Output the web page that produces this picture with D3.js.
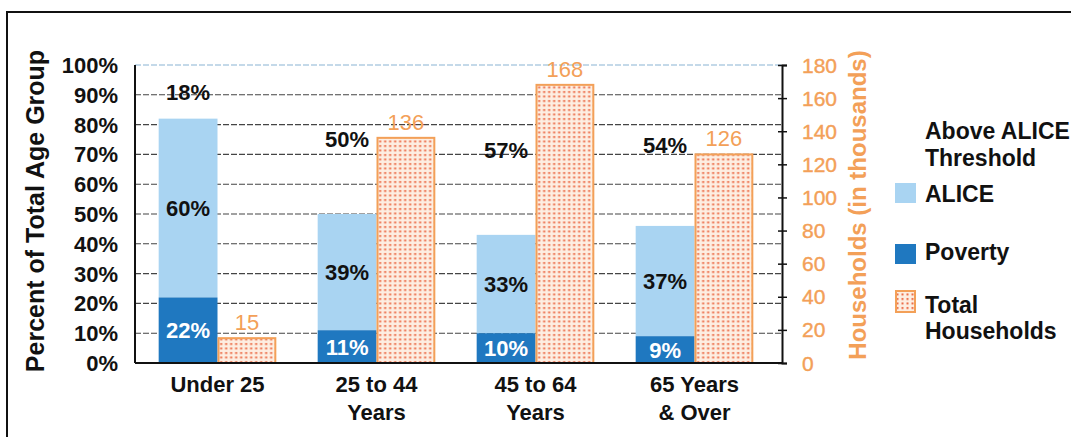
<!DOCTYPE html>
<html>
<head>
<meta charset="utf-8">
<script src="https://cdn.jsdelivr.net/npm/d3@7"></script>
<style>
  body { margin: 0; background: #fff; }
  svg { display: block; font-family: "Liberation Sans", Arial, sans-serif; }
</style>
</head>
<body>
<div id="chart"></div>
<script>
// ALICE by age chart

var categories = [["Under 25"], ["25 to 44", "Years"], ["45 to 64", "Years"], ["65 Years", "& Over"]];
var poverty = [22, 11, 10, 9];
var alice = [60, 39, 33, 37];
var aboveAlice = [18, 50, 57, 54];
var households = [15, 136, 168, 126];
var pctTicks = [0, 10, 20, 30, 40, 50, 60, 70, 80, 90, 100];
var hhTicks = [0, 20, 40, 60, 80, 100, 120, 140, 160, 180];

var width = 1071, height = 437;
var plot = {left: 135, right: 782, top: 65, bottom: 363};

var colAlice = "#a9d4f2", colPoverty = "#1f78c0", colOrange = "#f3a058", colDots = "#ec6a45";

var svg = d3.select("#chart").append("svg")
    .attr("width", width)
    .attr("height", height);

// dotted fill for households
var pat = svg.append("defs").append("pattern")
    .attr("id", "dots")
    .attr("patternUnits", "userSpaceOnUse")
    .attr("width", 5)
    .attr("height", 4.5);
pat.append("rect").attr("width", 5).attr("height", 4.5).attr("fill", "#fdeee2");
pat.append("rect").attr("x", 1.5).attr("y", 1).attr("width", 2).attr("height", 2).attr("fill", colDots);

// outer frame
svg.append("rect")
    .attr("x", 7).attr("y", 12)
    .attr("width", 1100).attr("height", 460)
    .attr("fill", "none")
    .attr("stroke", "#111")
    .attr("stroke-width", 2);

var y = d3.scaleLinear().domain([0, 100]).range([plot.bottom, plot.top]);
var y2 = d3.scaleLinear().domain([0, 180]).range([plot.bottom, plot.top]);

var x0 = d3.scaleBand()
    .domain(d3.range(categories.length))
    .range([138, 774])
    .paddingInner(0.26)
    .paddingOuter(0.13);
var x1 = d3.scaleBand()
    .domain(["stack", "hh"])
    .range([0, x0.bandwidth()]);

// gridlines
svg.append("g").selectAll("line")
    .data(pctTicks.slice(1))
    .enter().append("line")
    .attr("x1", plot.left).attr("x2", plot.right)
    .attr("y1", function(d) { return y(d); })
    .attr("y2", function(d) { return y(d); })
    .attr("stroke", function(d) { return d === 100 ? "#8ab4d4" : "#444"; })
    .attr("stroke-width", 1.1)
    .attr("stroke-dasharray", "6,2");

// stacked bars
var groups = svg.append("g").selectAll("g")
    .data(d3.range(categories.length))
    .enter().append("g")
    .attr("transform", function(i) { return "translate(" + x0(i) + ",0)"; });

groups.append("rect")
    .attr("x", x1("stack"))
    .attr("width", x1.bandwidth())
    .attr("y", function(i) { return y(poverty[i] + alice[i]); })
    .attr("height", function(i) { return y(poverty[i]) - y(poverty[i] + alice[i]); })
    .attr("fill", colAlice);

groups.append("rect")
    .attr("x", x1("stack"))
    .attr("width", x1.bandwidth())
    .attr("y", function(i) { return y(poverty[i]); })
    .attr("height", function(i) { return y(0) - y(poverty[i]); })
    .attr("fill", colPoverty);

groups.append("rect")
    .attr("x", x1("hh") + 1)
    .attr("width", x1.bandwidth() - 2)
    .attr("y", function(i) { return y2(households[i]); })
    .attr("height", function(i) { return y2(0) - y2(households[i]); })
    .attr("fill", "url(#dots)")
    .attr("stroke", colOrange)
    .attr("stroke-width", 2);

var labelFont = 22;
function segLabel(cls, getLow, getHigh, getText, color) {
    groups.append("text")
        .attr("class", cls)
        .attr("x", x1("stack") + x1.bandwidth() / 2)
        .attr("y", function(i) { return (y(getLow(i)) + y(getHigh(i))) / 2; })
        .attr("dy", "0.36em")
        .attr("text-anchor", "middle")
        .attr("font-size", labelFont)
        .attr("font-weight", "bold")
        .attr("fill", color)
        .text(getText);
}
segLabel("pov", function() { return 0; }, function(i) { return poverty[i]; },
    function(i) { return poverty[i] + "%"; }, "#fff");
segLabel("alice", function(i) { return poverty[i]; }, function(i) { return poverty[i] + alice[i]; },
    function(i) { return alice[i] + "%"; }, "#111");
segLabel("above", function(i) { return poverty[i] + alice[i]; }, function() { return 100; },
    function(i) { return aboveAlice[i] + "%"; }, "#111");

groups.append("text")
    .attr("x", x1("hh") + x1.bandwidth() / 2)
    .attr("y", function(i) { return y2(households[i]) - 8; })
    .attr("text-anchor", "middle")
    .attr("font-size", 22)
    .attr("fill", colOrange)
    .text(function(i) { return households[i]; });

// axes lines
svg.append("line")
    .attr("x1", plot.left).attr("x2", plot.left)
    .attr("y1", plot.top).attr("y2", plot.bottom)
    .attr("stroke", "#111").attr("stroke-width", 2);
svg.append("line")
    .attr("x1", plot.left).attr("x2", plot.right)
    .attr("y1", plot.bottom).attr("y2", plot.bottom)
    .attr("stroke", "#111").attr("stroke-width", 2);

var rightAxis = svg.append("g")
    .attr("transform", "translate(" + plot.right + ",0)")
    .call(d3.axisRight(y2).tickValues(hhTicks).tickSize(5).tickFormat(""));
rightAxis.select(".domain").attr("stroke", "#111").attr("stroke-width", 2);
rightAxis.selectAll(".tick line").attr("stroke", "#111").attr("stroke-width", 1.5).attr("x1", -4);

// left tick labels
svg.append("g").selectAll("text")
    .data(pctTicks)
    .enter().append("text")
    .attr("x", 118)
    .attr("y", function(d) { return y(d); })
    .attr("dy", "0.36em")
    .attr("text-anchor", "end")
    .attr("font-size", 22)
    .attr("font-weight", "bold")
    .attr("fill", "#111")
    .text(function(d) { return d + "%"; });

// right tick labels
svg.append("g").selectAll("text")
    .data(hhTicks)
    .enter().append("text")
    .attr("x", 802)
    .attr("y", function(d) { return y2(d); })
    .attr("dy", "0.36em")
    .attr("font-size", 21)
    .attr("fill", colOrange)
    .attr("stroke", colOrange)
    .attr("stroke-width", 0.4)
    .text(function(d) { return d; });

// category labels
svg.append("g").selectAll("text")
    .data(d3.range(categories.length))
    .enter().append("text")
    .attr("text-anchor", "middle")
    .attr("font-size", 22)
    .attr("font-weight", "bold")
    .attr("fill", "#111")
    .each(function(i) {
        var t = d3.select(this);
        categories[i].forEach(function(line, k) {
            t.append("tspan")
                .attr("x", x0(i) + x0.bandwidth() / 2)
                .attr("y", 392 + k * 28)
                .text(line);
        });
    });

// axis titles
svg.append("text")
    .attr("transform", "translate(44,211) rotate(-90)")
    .attr("text-anchor", "middle")
    .attr("font-size", 25)
    .attr("font-weight", "bold")
    .attr("fill", "#111")
    .text("Percent of Total Age Group");

svg.append("text")
    .attr("transform", "translate(866,205) rotate(-90)")
    .attr("text-anchor", "middle")
    .attr("font-size", 24)
    .attr("font-weight", "bold")
    .attr("fill", colOrange)
    .text("Households (in thousands)");

// legend
var legend = svg.append("g").attr("font-size", 23).attr("font-weight", "bold").attr("fill", "#111");
legend.append("text").attr("x", 925).attr("y", 139).text("Above ALICE");
legend.append("text").attr("x", 925).attr("y", 166).text("Threshold");

legend.append("rect").attr("x", 895).attr("y", 183).attr("width", 21).attr("height", 20).attr("fill", colAlice);
legend.append("text").attr("x", 925).attr("y", 202).text("ALICE");

legend.append("rect").attr("x", 895).attr("y", 244).attr("width", 21).attr("height", 20).attr("fill", colPoverty);
legend.append("text").attr("x", 925).attr("y", 260).text("Poverty");

legend.append("rect").attr("x", 896).attr("y", 291).attr("width", 19).attr("height", 21)
    .attr("fill", "url(#dots)").attr("stroke", colOrange).attr("stroke-width", 2);
legend.append("text").attr("x", 925).attr("y", 313).text("Total");
legend.append("text").attr("x", 925).attr("y", 339).text("Households");
</script>
</body>
</html>
